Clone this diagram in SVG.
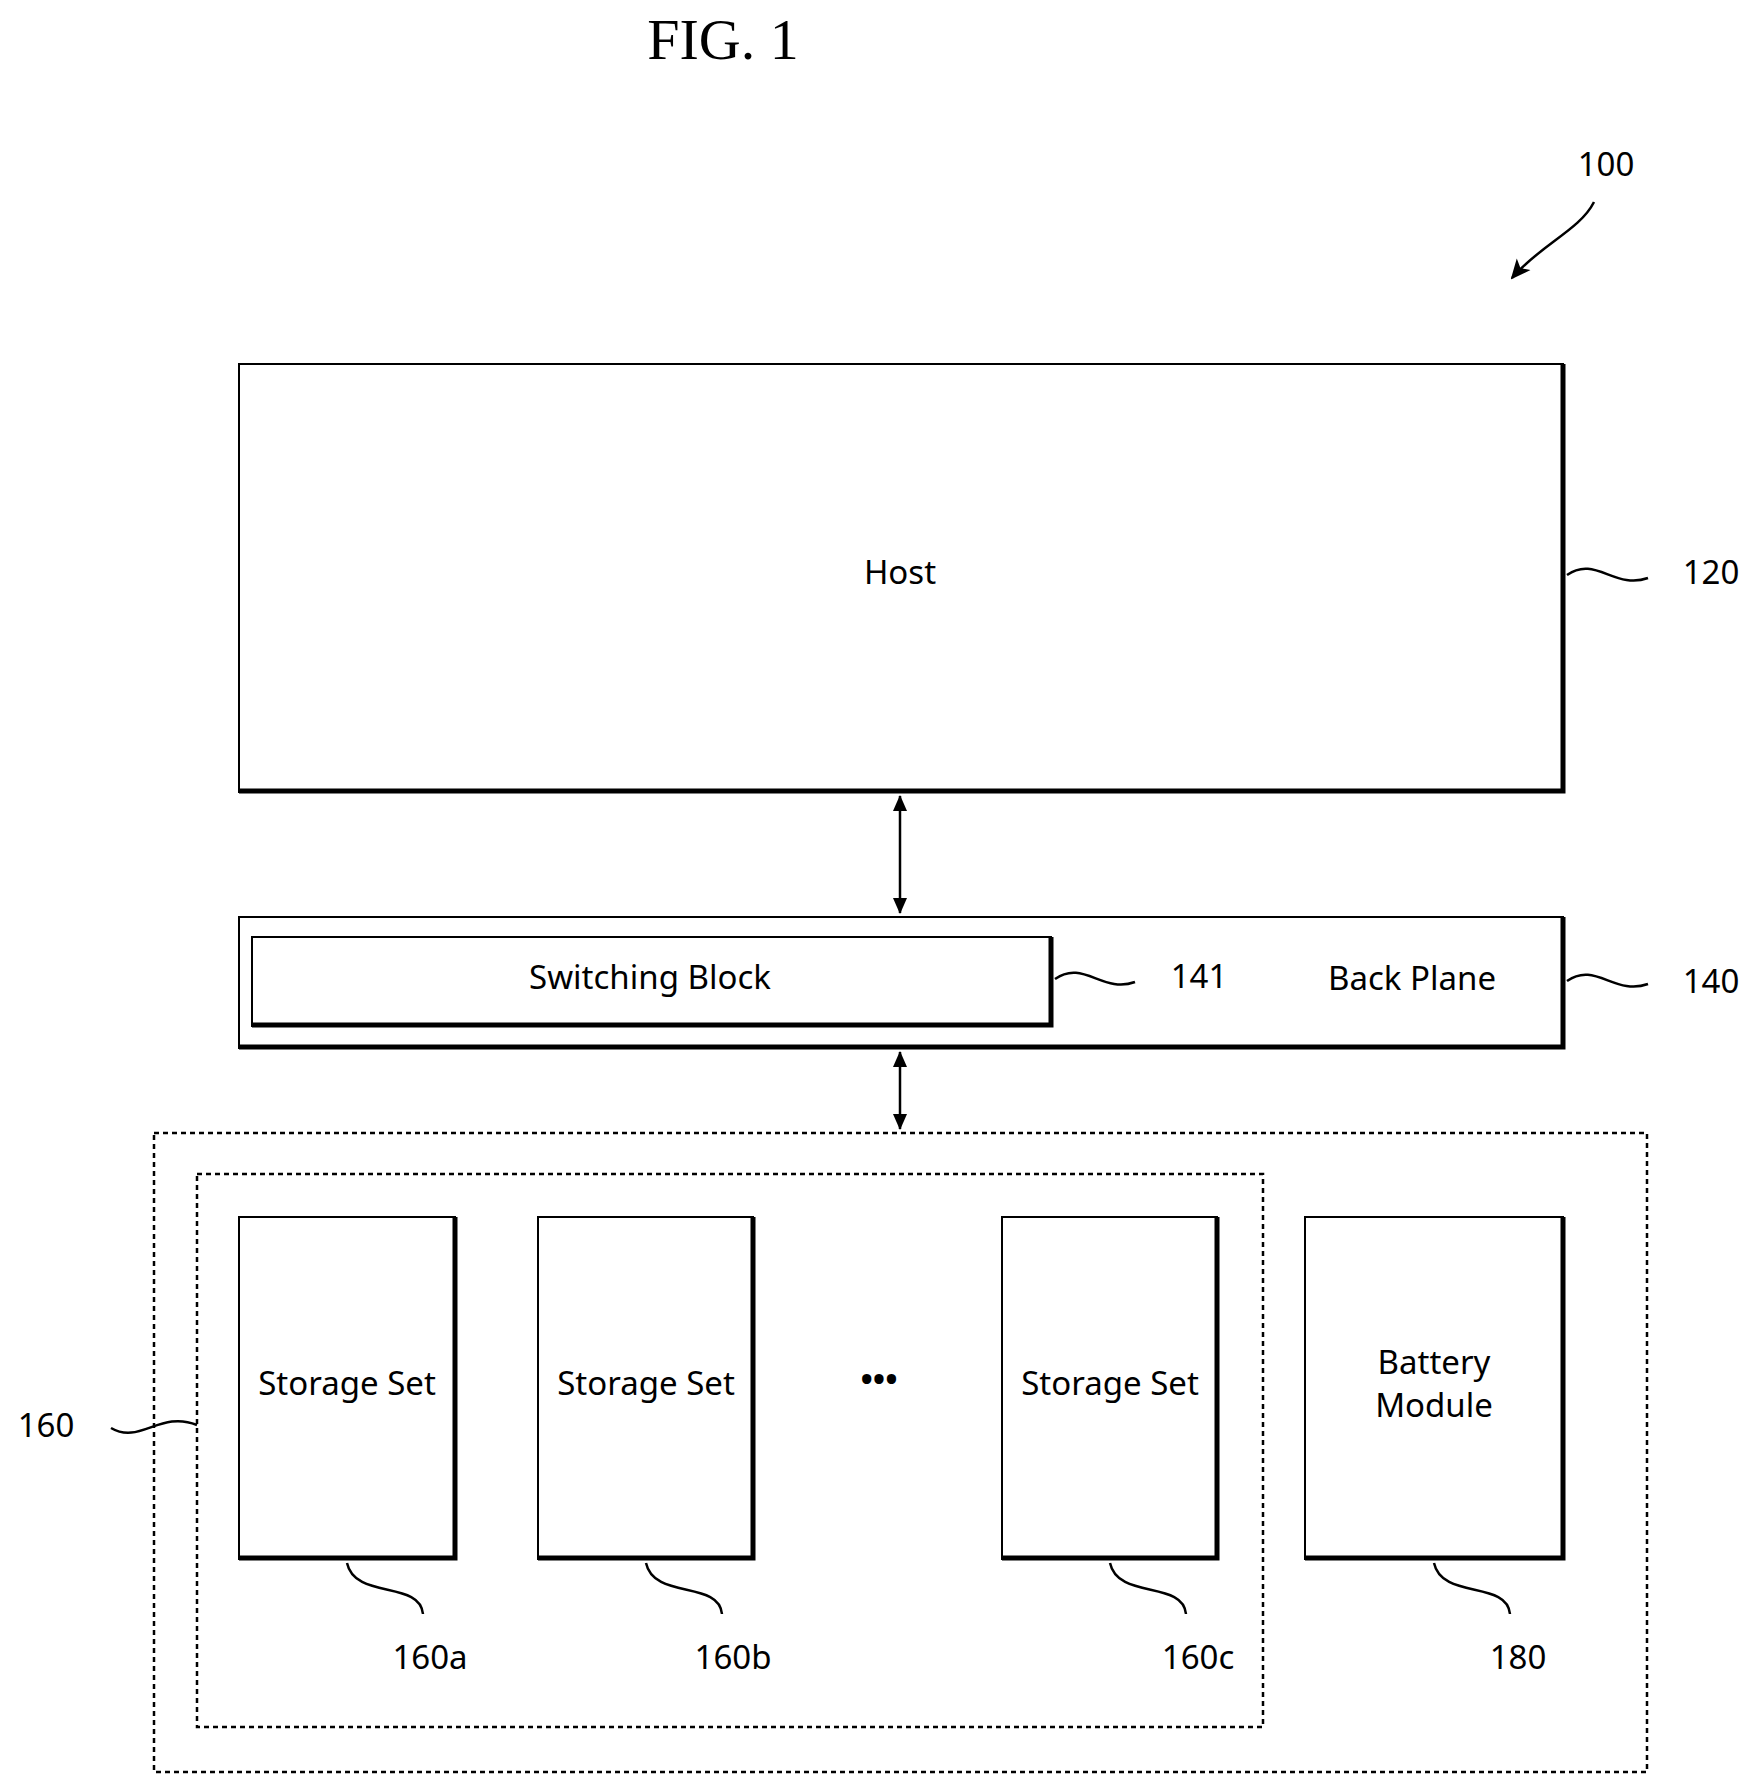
<svg xmlns="http://www.w3.org/2000/svg" width="1751" height="1784" viewBox="0 0 1751 1784">
<style>
.b{fill:#fff;stroke:#000;stroke-width:2}
.sh{fill:none;stroke:#000;stroke-width:5}
.d{fill:none;stroke:#000;stroke-width:2.5;stroke-dasharray:5 4}
.l{fill:none;stroke:#000;stroke-width:2.5}
text{font-family:"Noto Sans","Open Sans",sans-serif;font-size:33px;fill:#000;text-anchor:middle;dominant-baseline:middle}
</style>
<defs><marker id="a" markerWidth="16" markerHeight="16" refX="15" refY="8" orient="auto-start-reverse" markerUnits="userSpaceOnUse" viewBox="0 0 16 16"><path d="M0,1 L16,8 L0,15 z"/></marker>
<marker id="a2" markerWidth="20" markerHeight="20" refX="18" refY="10" orient="auto-start-reverse" markerUnits="userSpaceOnUse" viewBox="0 0 20 20"><path d="M0,1 L20,10 L0,19 L5,10 z"/></marker></defs>
<rect width="1751" height="1784" fill="#fff"/>
<text x="723" y="46" style="font-family:'Liberation Serif',serif;font-size:58px">FIG. 1</text>
<text x="1606" y="167">100</text>
<g id="host"><rect class="b" x="239" y="364" width="1324" height="428"/><path class="sh" d="M239,791 H1563 V364"/><text x="900" y="575">Host</text><text x="1711" y="575">120</text></g>
<g id="backplane"><rect class="b" x="239" y="917" width="1324" height="131"/><path class="sh" d="M239,1047 H1563 V917"/><text x="1412" y="981">Back Plane</text><text x="1711" y="984">140</text></g>
<g id="switch"><rect class="b" x="252" y="937" width="799" height="89"/><path class="sh" d="M252,1025 H1051 V937"/><text x="650" y="980">Switching Block</text><text x="1199" y="979">141</text></g>
<g id="g160"><rect class="d" x="154" y="1133" width="1493" height="639"/><text x="46" y="1428">160</text></g>
<g id="g160i"><rect class="d" x="197" y="1174" width="1066" height="553"/></g>
<g id="s160a"><rect class="b" x="239" y="1217" width="216" height="342"/><path class="sh" d="M239,1558 H455 V1217"/><text x="347" y="1386">Storage Set</text><text x="430" y="1660">160a</text></g>
<g id="s160b"><rect class="b" x="538" y="1217" width="215" height="342"/><path class="sh" d="M538,1558 H753 V1217"/><text x="646" y="1386">Storage Set</text><text x="733" y="1660">160b</text></g>
<text x="879" y="1382" style="font-weight:bold">•••</text>
<g id="s160c"><rect class="b" x="1002" y="1217" width="215" height="342"/><path class="sh" d="M1002,1558 H1217 V1217"/><text x="1110" y="1386">Storage Set</text><text x="1198" y="1660">160c</text></g>
<g id="battery"><rect class="b" x="1305" y="1217" width="258" height="342"/><path class="sh" d="M1305,1558 H1563 V1217"/><text x="1434" y="1365">Battery</text><text x="1434" y="1408">Module</text><text x="1518" y="1660">180</text></g>
<g id="connectors">
<path class="l" d="M1594,202 C1580,230 1540,245 1512,278" marker-end="url(#a2)"/>
<line class="l" x1="900" y1="796" x2="900" y2="913" marker-start="url(#a)" marker-end="url(#a)"/>
<line class="l" x1="900" y1="1052" x2="900" y2="1129" marker-start="url(#a)" marker-end="url(#a)"/>
<path class="l" d="M1567,575 C1595,555 1615,590 1648,578"/>
<path class="l" d="M1567,981 C1595,961 1615,996 1648,984"/>
<path class="l" d="M1055,979 C1083,959 1103,994 1135,982"/>
<path class="l" d="M111,1428 C140,1445 160,1410 197,1425"/>
<path class="l" d="M347,1563 C355,1600 420,1580 423,1614"/>
<path class="l" d="M646,1563 C654,1600 719,1580 722,1614"/>
<path class="l" d="M1110,1563 C1118,1600 1183,1580 1186,1614"/>
<path class="l" d="M1434,1563 C1442,1600 1507,1580 1510,1614"/>
</g>
</svg>
